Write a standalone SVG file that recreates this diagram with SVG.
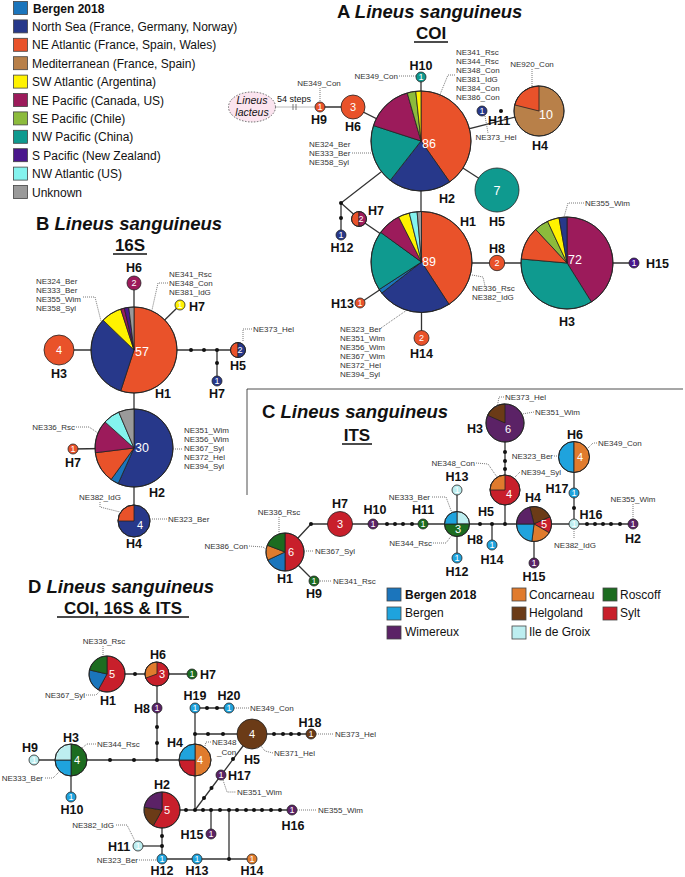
<svg xmlns="http://www.w3.org/2000/svg" width="685" height="877" viewBox="0 0 685 877">
<style>
text{font-family:"Liberation Sans",Arial,sans-serif;fill:#111}
.lg{font-size:12px}
.lgb{font-size:12px;font-weight:bold}
.ti{font-size:18.5px;font-weight:bold}
.it{font-style:italic}
.st{font-size:17px;font-weight:bold;text-anchor:middle}
.h{font-size:12.5px;font-weight:bold;text-anchor:middle}
.hs{font-size:12.5px;font-weight:bold}
.s{font-size:8px;fill:#333}
.sm{font-size:8px;fill:#333;text-anchor:middle}
.se{font-size:8px;fill:#333;text-anchor:end}
.n{fill:#fff;text-anchor:middle;font-size:9px}
.nm{fill:#fff;text-anchor:middle;font-size:11px}
.nb{fill:#fff;text-anchor:middle;font-size:12.5px}
.ln{stroke:#333;stroke-width:1.3;fill:none}
.ld{stroke:#555;stroke-width:0.8;stroke-dasharray:1 1;fill:none}
.dot{fill:#111}
.o{fill:none;stroke:#222;stroke-width:0.9}
path,circle.f{stroke:#222;stroke-width:0.8}
.sq{stroke:#444;stroke-width:0.8}
.b18{fill:#1b75bc}.ns{fill:#27388a}.nea{fill:#e9522a}.med{fill:#b88049}.swa{fill:#fff200}
.nep{fill:#9c1b5b}.sep{fill:#8cbb3c}.nwp{fill:#0f9a8f}.sp{fill:#4a178c}.nwa{fill:#84f3ee}.unk{fill:#9a9a9a}
.ber{fill:#1fa3dd}.wim{fill:#5b2266}.con{fill:#e07b2d}.hel{fill:#6b3b17}.idg{fill:#bdeef0}.ros{fill:#1c6c20}.syl{fill:#c81f2b}
</style>

<!-- Legend A/B -->
<g id="legend-ab">
<rect class="sq b18" x="13.5" y="1.5" width="14" height="13"/><text class="lgb" x="33" y="12.5">Bergen 2018</text>
<rect class="sq ns" x="13.5" y="19.9" width="14" height="13"/><text class="lg" x="32" y="30.9">North Sea (France, Germany, Norway)</text>
<rect class="sq nea" x="13.5" y="38.3" width="14" height="13"/><text class="lg" x="32" y="49.3">NE Atlantic (France, Spain, Wales)</text>
<rect class="sq med" x="13.5" y="56.7" width="14" height="13"/><text class="lg" x="32" y="67.7">Mediterranean (France, Spain)</text>
<rect class="sq swa" x="13.5" y="75.1" width="14" height="13"/><text class="lg" x="32" y="86.1">SW Atlantic (Argentina)</text>
<rect class="sq nep" x="13.5" y="93.5" width="14" height="13"/><text class="lg" x="32" y="104.5">NE Pacific (Canada, US)</text>
<rect class="sq sep" x="13.5" y="111.9" width="14" height="13"/><text class="lg" x="32" y="122.9">SE Pacific (Chile)</text>
<rect class="sq nwp" x="13.5" y="130.3" width="14" height="13"/><text class="lg" x="32" y="141.3">NW Pacific (China)</text>
<rect class="sq sp" x="13.5" y="148.7" width="14" height="13"/><text class="lg" x="32" y="159.7">S Pacific (New Zealand)</text>
<rect class="sq nwa" x="13.5" y="167.1" width="14" height="13"/><text class="lg" x="32" y="178.1">NW Atlantic (US)</text>
<rect class="sq unk" x="13.5" y="185.5" width="14" height="13"/><text class="lg" x="32" y="196.5">Unknown</text>
</g>

<!-- Titles -->
<g id="titles">
<text class="ti" x="337" y="18">A <tspan class="it">Lineus sanguineus</tspan></text>
<text class="st" x="431" y="39">COI</text><line x1="414" y1="42" x2="448" y2="42" stroke="#111" stroke-width="1.5"/>
<text class="ti" x="36" y="230">B <tspan class="it">Lineus sanguineus</tspan></text>
<text class="st" x="130" y="251">16S</text><line x1="113" y1="254" x2="147" y2="254" stroke="#111" stroke-width="1.5"/>
<text class="ti" x="262" y="418">C <tspan class="it">Lineus sanguineus</tspan></text>
<text class="st" x="357" y="441">ITS</text><line x1="342" y1="444" x2="372" y2="444" stroke="#111" stroke-width="1.5"/>
<text class="ti" x="28" y="593">D <tspan class="it">Lineus sanguineus</tspan></text>
<text class="st" x="123" y="614">COI, 16S &amp; ITS</text><line x1="57" y1="617" x2="189" y2="617" stroke="#111" stroke-width="1.5"/>
<path d="M247,495 L247,389 L683,389" fill="none" stroke="#111" stroke-width="1.5"/>
</g>

<!-- Connectors -->
<g id="connectors">
<!-- A -->
<line class="ld" x1="275.5" y1="107" x2="315" y2="107"/>
<line x1="293" y1="104" x2="293" y2="110" stroke="#555" stroke-width="0.8"/>
<line x1="296" y1="104" x2="296" y2="110" stroke="#555" stroke-width="0.8"/>
<polyline class="ln" points="320,107 353,107 421,141"/>
<line class="ln" x1="421" y1="77" x2="421" y2="262"/>
<polyline class="ln" points="421,141 539,111"/>
<line class="ln" x1="421" y1="141" x2="497" y2="190"/>
<polyline class="ln" points="421,141 341,203 341,235"/>
<polyline class="ln" points="341,203 359,219 421.5,262"/>
<line class="ln" x1="360" y1="303" x2="421.5" y2="262"/>
<line class="ln" x1="421.5" y1="262" x2="421.5" y2="338"/>
<line class="ln" x1="421.5" y1="263" x2="634" y2="263"/>
<circle class="dot" cx="501" cy="111" r="2"/>
<circle class="dot" cx="341" cy="203" r="2"/>
<circle class="dot" cx="341" cy="218" r="2"/>
<!-- B -->
<line class="ln" x1="134" y1="283" x2="134" y2="521"/>
<line class="ln" x1="134" y1="350" x2="180" y2="305"/>
<line class="ln" x1="59" y1="350" x2="238" y2="350"/>
<line class="ln" x1="217" y1="350" x2="217" y2="381"/>
<line class="ln" x1="73" y1="449" x2="134" y2="448"/>
<circle class="dot" cx="191" cy="350" r="2"/><circle class="dot" cx="204" cy="350" r="2"/><circle class="dot" cx="217" cy="350" r="2"/><circle class="dot" cx="217" cy="363" r="2"/>
<!-- C -->
<polyline class="ln" points="285,552 311,524 633,524"/>
<line class="ln" x1="285" y1="552" x2="314" y2="581"/>
<line class="ln" x1="457" y1="490" x2="457" y2="558"/>
<line class="ln" x1="492" y1="524" x2="492" y2="545"/>
<line class="ln" x1="505" y1="524" x2="505" y2="423"/>
<line class="ln" x1="534" y1="524" x2="534" y2="563"/>
<line class="ln" x1="574" y1="524" x2="574" y2="457"/>
<circle class="dot" cx="311" cy="524" r="2"/>
<circle class="dot" cx="387" cy="524" r="2"/><circle class="dot" cx="395" cy="524" r="2"/><circle class="dot" cx="403" cy="524" r="2"/><circle class="dot" cx="412" cy="524" r="2"/>
<circle class="dot" cx="480" cy="524" r="2"/><circle class="dot" cx="492" cy="524" r="2"/><circle class="dot" cx="505" cy="524" r="2"/>
<circle class="dot" cx="505" cy="469" r="2"/><circle class="dot" cx="505" cy="461" r="2"/><circle class="dot" cx="505" cy="452" r="2"/>
<circle class="dot" cx="574" cy="508" r="2"/>
<circle class="dot" cx="587" cy="524" r="2"/><circle class="dot" cx="595" cy="524" r="2"/><circle class="dot" cx="603" cy="524" r="2"/><circle class="dot" cx="611" cy="524" r="2"/><circle class="dot" cx="620" cy="524" r="2"/>
<!-- D -->
<line class="ln" x1="107" y1="674" x2="192" y2="674"/>
<line class="ln" x1="157" y1="674" x2="157" y2="760"/>
<line class="ln" x1="34" y1="760" x2="195" y2="760"/>
<line class="ln" x1="71" y1="760" x2="71" y2="797"/>
<line class="ln" x1="195" y1="708" x2="195" y2="810"/>
<line class="ln" x1="195" y1="708" x2="229" y2="708"/>
<line class="ln" x1="195" y1="734" x2="311" y2="734"/>
<line class="ln" x1="252" y1="734" x2="195" y2="810"/>
<line class="ln" x1="162" y1="810" x2="292" y2="810"/>
<line class="ln" x1="211" y1="810" x2="211" y2="834"/>
<line class="ln" x1="229" y1="810" x2="229" y2="859"/>
<line class="ln" x1="162" y1="810" x2="162" y2="859"/>
<line class="ln" x1="138" y1="846" x2="162" y2="846"/>
<line class="ln" x1="162" y1="859" x2="252" y2="859"/>
<circle class="dot" cx="135" cy="674" r="2"/>
<circle class="dot" cx="157" cy="727" r="2"/><circle class="dot" cx="157" cy="743" r="2"/><circle class="dot" cx="157" cy="760" r="2"/>
<circle class="dot" cx="110" cy="760" r="2"/><circle class="dot" cx="134" cy="760" r="2"/>
<circle class="dot" cx="207" cy="708" r="2"/><circle class="dot" cx="217" cy="708" r="2"/>
<circle class="dot" cx="195" cy="734" r="2"/><circle class="dot" cx="208" cy="734" r="2"/><circle class="dot" cx="223" cy="734" r="2"/>
<circle class="dot" cx="274" cy="734" r="2"/><circle class="dot" cx="283" cy="734" r="2"/><circle class="dot" cx="291" cy="734" r="2"/><circle class="dot" cx="299" cy="734" r="2"/>
<circle class="dot" cx="233" cy="759" r="2"/><circle class="dot" cx="211.5" cy="788" r="2"/><circle class="dot" cx="204" cy="798" r="2"/>
<circle class="dot" cx="186" cy="810" r="2"/><circle class="dot" cx="195" cy="810" r="2"/><circle class="dot" cx="203" cy="810" r="2"/><circle class="dot" cx="211" cy="810" r="2"/><circle class="dot" cx="220" cy="810" r="2"/><circle class="dot" cx="229" cy="810" r="2"/><circle class="dot" cx="237" cy="810" r="2"/><circle class="dot" cx="246" cy="810" r="2"/><circle class="dot" cx="254" cy="810" r="2"/><circle class="dot" cx="262" cy="810" r="2"/><circle class="dot" cx="271" cy="810" r="2"/><circle class="dot" cx="280" cy="810" r="2"/>
<circle class="dot" cx="162" cy="836" r="2"/><circle class="dot" cx="162" cy="846" r="2"/><circle class="dot" cx="229" cy="859" r="2"/>
</g>

<!-- Panel A nodes -->
<g id="A-lacteus">
<ellipse cx="252" cy="107" rx="23.5" ry="15" fill="#fbe4ef" stroke="#555" stroke-width="0.9" stroke-dasharray="1.5 1.5"/>
<text class="it" x="252" y="104" font-size="10.5" text-anchor="middle" fill="#333">Lineus</text>
<text class="it" x="252" y="116" font-size="10.5" text-anchor="middle" fill="#333">lacteus</text>
<text x="294" y="102" font-size="9" text-anchor="middle" fill="#333">54 steps</text>
</g>
<g id="A-H9"><circle class="f nea" cx="320" cy="107" r="5"/><text class="n" x="320" y="110">1</text><text class="h" x="319" y="124">H9</text><text class="sm" x="319" y="86">NE349_Con</text></g>
<g id="A-H6"><circle class="f nea" cx="353" cy="107" r="12"/><text class="nm" x="353" y="111">3</text><text class="h" x="353" y="131">H6</text></g>
<g id="A-H10"><circle class="f nwp" cx="421" cy="77" r="5"/><text class="n" x="421" y="80">1</text><text class="h" x="421" y="70">H10</text><text class="se" x="398" y="79">NE349_Con</text></g>
<g id="A-H2">
<path class="nea" d="M421,141 L421,91 A50,50 0 0 1 449.68,181.96 Z"/>
<path class="ns" d="M421,141 L449.68,181.96 A50,50 0 0 1 390.22,180.4 Z"/>
<path class="nwp" d="M421,141 L390.22,180.4 A50,50 0 0 1 373.45,125.55 Z"/>
<path class="nep" d="M421,141 L373.45,125.55 A50,50 0 0 1 407.22,92.94 Z"/>
<path class="sep" d="M421,141 L407.22,92.94 A50,50 0 0 1 415.77,91.27 Z"/>
<path class="swa" d="M421,141 L415.77,91.27 A50,50 0 0 1 421,91 Z"/>
<circle class="o" cx="421" cy="141" r="50"/>
<text class="nb" x="429" y="148">86</text><text class="h" x="447" y="203">H2</text>
<text class="s" x="456" y="55">NE341_Rsc</text><text class="s" x="456" y="64">NE344_Rsc</text><text class="s" x="456" y="73">NE348_Con</text><text class="s" x="456" y="82">NE381_IdG</text><text class="s" x="456" y="91">NE384_Con</text><text class="s" x="456" y="100">NE386_Con</text>
<text class="s" x="309" y="147">NE324_Ber</text><text class="s" x="309" y="156">NE333_Ber</text><text class="s" x="309" y="165">NE358_Syl</text>
</g>
<g id="A-H11"><circle class="f ns" cx="482" cy="111" r="5"/><text class="n" x="482" y="114">1</text><text class="h" x="499" y="125">H11</text><text class="sm" x="496" y="140">NE373_Hel</text></g>
<g id="A-H4"><circle class="f med" cx="539" cy="111" r="25"/><path class="nea" d="M539,111 L514.74,104.95 A25,25 0 0 1 539,86 Z"/><circle class="o" cx="539" cy="111" r="25"/><text class="nb" x="546" y="119">10</text><text class="h" x="540" y="150">H4</text><text class="sm" x="532" y="67">NE920_Con</text></g>
<g id="A-H5"><circle class="f nwp" cx="497" cy="190" r="22"/><text class="nb" x="497" y="195">7</text><text class="h" x="497" y="226">H5</text></g>
<g id="A-H12"><circle class="f ns" cx="341" cy="235" r="5"/><text class="n" x="341" y="238">1</text><text class="h" x="342" y="252">H12</text></g>
<g id="A-H7"><path class="nea" d="M359,219 L359,211.5 A7.5,7.5 0 0 0 359,226.5 Z"/><path class="nep" d="M359,219 L359,211.5 A7.5,7.5 0 0 1 359,226.5 Z"/><circle class="o" cx="359" cy="219" r="7.5"/><text class="n" x="361" y="222">2</text><text class="h" x="376" y="215">H7</text></g>
<g id="A-H1">
<path class="nea" d="M421.5,262 L421.5,211.5 A50.5,50.5 0 0 1 449,304.35 Z"/>
<path class="ns" d="M421.5,262 L449,304.35 A50.5,50.5 0 0 1 381.71,293.09 Z"/>
<path class="b18" d="M421.5,262 L381.71,293.09 A50.5,50.5 0 0 1 379.15,289.5 Z"/>
<path class="nwp" d="M421.5,262 L379.15,289.5 A50.5,50.5 0 0 1 380.64,232.32 Z"/>
<path class="nep" d="M421.5,262 L380.64,232.32 A50.5,50.5 0 0 1 398.57,217 Z"/>
<path class="swa" d="M421.5,262 L398.57,217 A50.5,50.5 0 0 1 409.28,213 Z"/>
<path class="nwa" d="M421.5,262 L409.28,213 A50.5,50.5 0 0 1 417.1,211.69 Z"/>
<path class="unk" d="M421.5,262 L417.1,211.69 A50.5,50.5 0 0 1 421.5,211.5 Z"/>
<circle class="o" cx="421.5" cy="262" r="50.5"/>
<text class="nb" x="429" y="266">89</text><text class="h" x="468" y="226">H1</text>
<text class="s" x="472" y="291">NE336_Rsc</text><text class="s" x="472" y="300">NE382_IdG</text>
<text class="s" x="340" y="332">NE323_Ber</text><text class="s" x="340" y="341">NE351_Wim</text><text class="s" x="340" y="350">NE356_Wim</text><text class="s" x="340" y="359">NE367_Wim</text><text class="s" x="340" y="368">NE372_Hel</text><text class="s" x="340" y="377">NE394_Syl</text>
</g>
<g id="A-H13"><circle class="f nea" cx="360" cy="303" r="5"/><text class="n" x="360" y="306">1</text><text class="hs" x="354" y="308" text-anchor="end">H13</text></g>
<g id="A-H14"><circle class="f nea" cx="421.5" cy="338" r="7.5"/><text class="n" x="421.5" y="341">2</text><text class="h" x="421.5" y="358">H14</text></g>
<g id="A-H8"><circle class="f nea" cx="497" cy="263" r="7.7"/><text class="n" x="497" y="266">2</text><text class="h" x="497" y="253">H8</text></g>
<g id="A-H3">
<path class="nep" d="M567,263 L567,217 A46,46 0 0 1 591.38,302.01 Z"/>
<path class="nwp" d="M567,263 L591.38,302.01 A46,46 0 0 1 521.18,258.99 Z"/>
<path class="nea" d="M567,263 L521.18,258.99 A46,46 0 0 1 535.63,229.36 Z"/>
<path class="sep" d="M567,263 L535.63,229.36 A46,46 0 0 1 547.56,221.31 Z"/>
<path class="swa" d="M567,263 L547.56,221.31 A46,46 0 0 1 559.01,217.7 Z"/>
<path class="ns" d="M567,263 L559.01,217.7 A46,46 0 0 1 567,217 Z"/>
<circle class="o" cx="567" cy="263" r="46"/>
<text class="nb" x="575" y="264">72</text><text class="h" x="567" y="326">H3</text>
<text class="s" x="585" y="206">NE355_Wim</text>
</g>
<g id="A-H15"><circle class="f sp" cx="634" cy="263" r="5"/><text class="n" x="634" y="266">1</text><text class="hs" x="646" y="268">H15</text></g>

<!-- Panel B nodes -->
<g id="B-H1">
<path class="nea" d="M134,350 L134,307 A43,43 0 1 1 120.71,390.9 Z"/>
<path class="ns" d="M134,350 L120.71,390.9 A43,43 0 0 1 103.07,320.13 Z"/>
<path class="swa" d="M134,350 L103.07,320.13 A43,43 0 0 1 120.71,309.1 Z"/>
<path class="nep" d="M134,350 L120.71,309.1 A43,43 0 0 1 124.33,308.1 Z"/>
<path class="sp" d="M134,350 L124.33,308.1 A43,43 0 0 1 128.76,307.32 Z"/>
<path class="unk" d="M134,350 L128.76,307.32 A43,43 0 0 1 134,307 Z"/>
<circle class="o" cx="134" cy="350" r="43"/>
<text class="nb" x="142" y="356">57</text><text class="h" x="163" y="398">H1</text>
<text class="s" x="169" y="277">NE341_Rsc</text><text class="s" x="169" y="286">NE348_Con</text><text class="s" x="169" y="295">NE381_IdG</text>
<text class="s" x="36" y="284">NE324_Ber</text><text class="s" x="36" y="293">NE333_Ber</text><text class="s" x="36" y="302">NE355_Wim</text><text class="s" x="36" y="311">NE358_Syl</text>
</g>
<g id="B-H6"><circle class="f nep" cx="134" cy="283" r="7"/><text class="n" x="134" y="286">2</text><text class="h" x="134" y="272">H6</text></g>
<g id="B-H7a"><circle class="f swa" cx="180" cy="305" r="5"/><text class="n" x="180" y="308" fill="#555">1</text><text class="hs" x="189" y="311">H7</text></g>
<g id="B-H3"><circle class="f nea" cx="59" cy="350" r="15"/><text class="nm" x="59" y="354">4</text><text class="h" x="59" y="378">H3</text></g>
<g id="B-H5"><path class="nea" d="M238,350 L238,342.5 A7.5,7.5 0 0 0 238,357.5 Z"/><path class="ns" d="M238,350 L238,342.5 A7.5,7.5 0 0 1 238,357.5 Z"/><circle class="o" cx="238" cy="350" r="7.5"/><text class="n" x="240" y="353">2</text><text class="h" x="238" y="370">H5</text><text class="s" x="253" y="332">NE373_Hel</text></g>
<g id="B-H7b"><circle class="f ns" cx="217" cy="381" r="5"/><text class="n" x="217" y="384">1</text><text class="h" x="217" y="398">H7</text></g>
<g id="B-H2">
<path class="ns" d="M134,448 L134,409 A39,39 0 1 1 118.14,483.63 Z"/>
<path class="b18" d="M134,448 L118.14,483.63 A39,39 0 0 1 111.08,479.55 Z"/>
<path class="nea" d="M134,448 L111.08,479.55 A39,39 0 0 1 95.29,452.75 Z"/>
<path class="nep" d="M134,448 L95.29,452.75 A39,39 0 0 1 105.02,421.9 Z"/>
<path class="nwa" d="M134,448 L105.02,421.9 A39,39 0 0 1 118.76,412.1 Z"/>
<path class="unk" d="M134,448 L118.76,412.1 A39,39 0 0 1 134,409 Z"/>
<circle class="o" cx="134" cy="448" r="39"/>
<text class="nb" x="142" y="452">30</text><text class="h" x="157" y="497">H2</text>
<text class="se" x="75" y="430">NE336_Rsc</text>
<text class="s" x="184" y="433">NE351_Wim</text><text class="s" x="184" y="442">NE356_Wim</text><text class="s" x="184" y="451">NE367_Syl</text><text class="s" x="184" y="460">NE372_Hel</text><text class="s" x="184" y="469">NE394_Syl</text>
</g>
<g id="B-H7c"><circle class="f nea" cx="73" cy="449" r="5"/><text class="n" x="73" y="452">1</text><text class="h" x="73" y="467">H7</text></g>
<g id="B-H4"><circle class="f ns" cx="134" cy="521" r="16"/><path class="nea" d="M134,521 L118,521 A16,16 0 0 1 134,505 Z"/><circle class="o" cx="134" cy="521" r="16"/><text class="nm" x="140" y="529">4</text><text class="h" x="134" y="548">H4</text><text class="sm" x="100" y="500">NE382_IdG</text><text class="s" x="168" y="522">NE323_Ber</text></g>

<!-- Panel C nodes -->
<g id="C-H1">
<path class="syl" d="M285,552 L285,533 A19,19 0 0 1 285,571 Z"/>
<path class="b18" d="M285,552 L285,571 A19,19 0 0 1 267.78,560.03 Z"/>
<path class="con" d="M285,552 L267.78,560.03 A19,19 0 0 1 267.26,545.19 Z"/>
<path class="ros" d="M285,552 L267.26,545.19 A19,19 0 0 1 285,533 Z"/>
<circle class="o" cx="285" cy="552" r="19"/>
<text class="nm" x="291" y="556">6</text><text class="h" x="285" y="583">H1</text>
<text class="sm" x="279" y="515">NE336_Rsc</text><text class="se" x="248" y="549">NE386_Con</text><text class="s" x="315" y="554">NE367_Syl</text>
</g>
<g id="C-H9"><circle class="f ros" cx="314" cy="581" r="5"/><text class="n" x="314" y="584">1</text><text class="h" x="314" y="598">H9</text><text class="s" x="333" y="584">NE341_Rsc</text></g>
<g id="C-H7"><circle class="f syl" cx="340" cy="524" r="12.5"/><text class="nm" x="340" y="528">3</text><text class="h" x="340" y="508">H7</text></g>
<g id="C-H10"><circle class="f wim" cx="373" cy="524" r="5"/><text class="n" x="373" y="527">1</text><text class="h" x="375" y="514">H10</text></g>
<g id="C-H11"><circle class="f ros" cx="423" cy="524" r="5"/><text class="n" x="423" y="527">1</text><text class="h" x="423" y="514">H11</text></g>
<g id="C-H8">
<path class="idg" d="M457,524 L457,511.5 A12.5,12.5 0 0 1 469.5,524 Z"/>
<path class="ros" d="M457,524 L469.5,524 A12.5,12.5 0 0 1 444.5,524 Z"/>
<path class="ber" d="M457,524 L444.5,524 A12.5,12.5 0 0 1 457,511.5 Z"/>
<circle class="o" cx="457" cy="524" r="12.5"/>
<text class="nm" x="458" y="533">3</text><text class="hs" x="467" y="544">H8</text>
<text class="se" x="430" y="500">NE333_Ber</text><text class="se" x="432" y="546">NE344_Rsc</text>
</g>
<g id="C-H13"><circle class="f idg" cx="457" cy="490" r="5"/><text class="n" x="457" y="493" fill="#667">1</text><text class="h" x="457" y="481">H13</text></g>
<g id="C-H12"><circle class="f ber" cx="457" cy="558" r="5"/><text class="n" x="457" y="561">1</text><text class="h" x="457" y="576">H12</text></g>
<g id="C-H14"><circle class="f ber" cx="492" cy="545" r="5"/><text class="n" x="492" y="548">1</text><text class="h" x="492" y="564">H14</text></g>
<g id="C-H5"><circle class="f syl" cx="505" cy="490" r="15"/><path class="con" d="M505,490 L490,490 A15,15 0 0 1 505,475 Z"/><circle class="o" cx="505" cy="490" r="15"/><text class="nm" x="509" y="498">4</text><text class="h" x="486" y="516">H5</text><text class="se" x="475" y="466">NE348_Con</text><text class="s" x="521" y="475">NE394_Syl</text></g>
<g id="C-H3"><circle class="f wim" cx="505" cy="423" r="19"/><path class="hel" d="M505,423 L487.64,415.27 A19,19 0 0 1 505,404 Z"/><circle class="o" cx="505" cy="423" r="19"/><text class="nm" x="508" y="433">6</text><text class="h" x="475" y="433">H3</text><text class="s" x="505" y="400">NE373_Hel</text><text class="s" x="535" y="415">NE351_Wim</text></g>
<g id="C-H4">
<path class="hel" d="M534,524 L529.77,507.02 A17.5,17.5 0 0 1 549.99,516.88 Z"/>
<path class="syl" d="M534,524 L549.99,516.88 A17.5,17.5 0 0 1 549.16,532.75 Z"/>
<path class="con" d="M534,524 L549.16,532.75 A17.5,17.5 0 0 1 531.87,541.37 Z"/>
<path class="ber" d="M534,524 L531.87,541.37 A17.5,17.5 0 0 1 516.5,524 Z"/>
<path class="wim" d="M534,524 L516.5,524 A17.5,17.5 0 0 1 529.77,507.02 Z"/>
<circle class="o" cx="534" cy="524" r="17.5"/>
<text class="nm" x="544" y="528">5</text><text class="h" x="533" y="502">H4</text>
</g>
<g id="C-H15"><circle class="f wim" cx="534" cy="563" r="5"/><text class="n" x="534" y="566">1</text><text class="h" x="534" y="581">H15</text></g>
<g id="C-H16"><circle class="f idg" cx="574" cy="524" r="5"/><text class="n" x="574" y="527" fill="#667">1</text><text class="h" x="591" y="519">H16</text><text class="sm" x="575" y="548">NE382_IdG</text></g>
<g id="C-H2"><circle class="f wim" cx="633" cy="524" r="5"/><text class="n" x="633" y="527">1</text><text class="h" x="633" y="543">H2</text><text class="sm" x="633" y="502">NE355_Wim</text></g>
<g id="C-H17"><circle class="f ber" cx="574" cy="493" r="5"/><text class="n" x="574" y="496">1</text><text class="h" x="557" y="493">H17</text></g>
<g id="C-H6"><path class="ber" d="M574,457 L574,441.5 A15.5,15.5 0 0 0 574,472.5 Z"/><path class="con" d="M574,457 L574,441.5 A15.5,15.5 0 0 1 574,472.5 Z"/><circle class="o" cx="574" cy="457" r="15.5"/><text class="nm" x="580" y="461">4</text><text class="h" x="575" y="439">H6</text><text class="s" x="598" y="446">NE349_Con</text><text class="se" x="553" y="459">NE323_Ber</text></g>

<!-- Legend C -->
<g id="legend-c">
<rect class="sq b18" x="387" y="588" width="14" height="13"/><text class="lgb" x="405" y="599">Bergen 2018</text>
<rect class="sq ber" x="387" y="607" width="14" height="13"/><text class="lg" x="405" y="617">Bergen</text>
<rect class="sq wim" x="387" y="626" width="14" height="13"/><text class="lg" x="405" y="636">Wimereux</text>
<rect class="sq con" x="512" y="588" width="14" height="13"/><text class="lg" x="529" y="599">Concarneau</text>
<rect class="sq hel" x="512" y="607" width="14" height="13"/><text class="lg" x="529" y="617">Helgoland</text>
<rect class="sq idg" x="512" y="626" width="14" height="13"/><text class="lg" x="529" y="636">Ile de Groix</text>
<rect class="sq ros" x="603" y="588" width="14" height="13"/><text class="lg" x="620" y="599">Roscoff</text>
<rect class="sq syl" x="603" y="607" width="14" height="13"/><text class="lg" x="620" y="617">Sylt</text>
</g>

<!-- Panel D nodes -->
<g id="D-H1">
<path class="syl" d="M107,674 L107,656 A18,18 0 1 1 98.27,689.74 Z"/>
<path class="b18" d="M107,674 L98.27,689.74 A18,18 0 0 1 89.46,669.95 Z"/>
<path class="ros" d="M107,674 L89.46,669.95 A18,18 0 0 1 107,656 Z"/>
<circle class="o" cx="107" cy="674" r="18"/>
<text class="nm" x="112" y="678">5</text><text class="h" x="108" y="705">H1</text>
<text class="sm" x="104" y="644">NE336_Rsc</text><text class="se" x="85" y="698">NE367_Syl</text>
</g>
<g id="D-H6"><circle class="f syl" cx="157" cy="674" r="12"/><path class="con" d="M157,674 L145.72,678.1 A12,12 0 0 1 157,662 Z"/><circle class="o" cx="157" cy="674" r="12"/><text class="nm" x="162" y="678">3</text><text class="h" x="158" y="659">H6</text></g>
<g id="D-H7"><circle class="f ros" cx="192" cy="674" r="5"/><text class="n" x="192" y="677">1</text><text class="hs" x="200" y="679">H7</text></g>
<g id="D-H8"><circle class="f wim" cx="157" cy="708" r="5"/><text class="n" x="157" y="711">1</text><text class="h" x="142" y="713">H8</text></g>
<g id="D-H3">
<path class="ros" d="M71,760 L71,744 A16,16 0 0 1 71,776 Z"/>
<path class="ber" d="M71,760 L71,776 A16,16 0 0 1 55,760 Z"/>
<path class="idg" d="M71,760 L55,760 A16,16 0 0 1 71,744 Z"/>
<circle class="o" cx="71" cy="760" r="16"/>
<text class="nm" x="77" y="764">4</text><text class="h" x="71" y="742">H3</text>
<text class="s" x="97" y="747">NE344_Rsc</text><text class="se" x="43" y="781">NE333_Ber</text>
</g>
<g id="D-H9"><circle class="f idg" cx="34" cy="760" r="5"/><text class="n" x="34" y="763" fill="#667">1</text><text class="h" x="30" y="752">H9</text></g>
<g id="D-H10"><circle class="f ber" cx="71" cy="797" r="5"/><text class="n" x="71" y="800">1</text><text class="h" x="72" y="814">H10</text></g>
<g id="D-H4">
<path class="con" d="M195,760 L195,744 A16,16 0 0 1 195,776 Z"/>
<path class="syl" d="M195,760 L195,776 A16,16 0 0 1 179,760 Z"/>
<path class="ber" d="M195,760 L179,760 A16,16 0 0 1 195,744 Z"/>
<circle class="o" cx="195" cy="760" r="16"/>
<text class="nm" x="200" y="764">4</text><text class="h" x="175" y="747">H4</text>
<text class="s" x="212" y="745">NE348</text><text class="s" x="217" y="755">_Con</text>
</g>
<g id="D-H19"><circle class="f ber" cx="195" cy="708" r="5"/><text class="n" x="195" y="711">1</text><text class="h" x="195" y="700">H19</text></g>
<g id="D-H20"><circle class="f ber" cx="229" cy="708" r="5"/><text class="n" x="229" y="711">1</text><text class="h" x="229" y="700">H20</text><text class="s" x="250" y="711">NE349_Con</text></g>
<g id="D-H5"><circle class="f hel" cx="252" cy="734" r="15"/><text class="nm" x="252" y="738">4</text><text class="h" x="252" y="764">H5</text><text class="s" x="274" y="756">NE371_Hel</text></g>
<g id="D-H18"><circle class="f hel" cx="311" cy="734" r="5"/><text class="n" x="311" y="737">1</text><text class="h" x="310" y="727">H18</text><text class="s" x="335" y="737">NE373_Hel</text></g>
<g id="D-H17"><circle class="f wim" cx="221" cy="775" r="5"/><text class="n" x="221" y="778">1</text><text class="hs" x="228" y="780">H17</text><text class="s" x="237" y="795">NE351_Wim</text></g>
<g id="D-H2">
<path class="syl" d="M162,810 L162,792 A18,18 0 1 1 153.27,825.74 Z"/>
<path class="hel" d="M162,810 L153.27,825.74 A18,18 0 0 1 144.22,807.18 Z"/>
<path class="wim" d="M162,810 L144.22,807.18 A18,18 0 0 1 162,792 Z"/>
<circle class="o" cx="162" cy="810" r="18"/>
<text class="nm" x="167" y="814">5</text><text class="h" x="162" y="789">H2</text>
</g>
<g id="D-H16"><circle class="f wim" cx="292" cy="810" r="5"/><text class="n" x="292" y="813">1</text><text class="h" x="293" y="830">H16</text><text class="s" x="318" y="813">NE355_Wim</text></g>
<g id="D-H15"><circle class="f wim" cx="211" cy="834" r="5"/><text class="n" x="211" y="837">1</text><text class="h" x="192" y="839">H15</text></g>
<g id="D-H11"><circle class="f idg" cx="138" cy="846" r="5"/><text class="n" x="138" y="849" fill="#667">1</text><text class="h" x="119" y="851">H11</text><text class="se" x="114" y="828">NE382_IdG</text></g>
<g id="D-H12"><circle class="f ber" cx="162" cy="859" r="5"/><text class="n" x="162" y="862">1</text><text class="h" x="162" y="875">H12</text><text class="se" x="138" y="863">NE323_Ber</text></g>
<g id="D-H13"><circle class="f ber" cx="197" cy="859" r="5"/><text class="n" x="197" y="862">1</text><text class="h" x="197" y="875">H13</text></g>
<g id="D-H14"><circle class="f con" cx="252" cy="859" r="5"/><text class="n" x="252" y="862">1</text><text class="h" x="252" y="875">H14</text></g>

<!-- Leader lines -->
<g id="leaders">
<line class="ld" x1="320" y1="88" x2="320" y2="102"/>
<line class="ld" x1="399" y1="76" x2="416" y2="76"/>
<polyline class="ld" points="455,75 448,75 439,97"/>
<line class="ld" x1="352" y1="153" x2="372" y2="153"/>
<line class="ld" x1="485" y1="116" x2="488" y2="133"/>
<line class="ld" x1="532" y1="69" x2="532" y2="86"/>
<polyline class="ld" points="584,203 568,203 564,217"/>
<polyline class="ld" points="472,275 483,277 485,286"/>
<line class="ld" x1="381" y1="328" x2="407" y2="310"/>
<polyline class="ld" points="168,283 158,283 152,310"/>
<polyline class="ld" points="83,297 95,297 101,321"/>
<polyline class="ld" points="252,329 243,329 243,342"/>
<polyline class="ld" points="76,427 89,427 98,433"/>
<line class="ld" x1="173" y1="449" x2="183" y2="449"/>
<polyline class="ld" points="100,502 100,507 120,512"/>
<line class="ld" x1="150" y1="519" x2="167" y2="519"/>
<line class="ld" x1="279" y1="517" x2="279" y2="533"/>
<polyline class="ld" points="249,546 263,547 267,550"/>
<line class="ld" x1="304" y1="551" x2="314" y2="551"/>
<line class="ld" x1="320" y1="581" x2="332" y2="581"/>
<polyline class="ld" points="432,497 446,497 452,513"/>
<polyline class="ld" points="433,543 446,543 452,535"/>
<polyline class="ld" points="476,463 488,464 497,477"/>
<line class="ld" x1="520" y1="472" x2="515" y2="477"/>
<polyline class="ld" points="504,397 499,397 497,408"/>
<line class="ld" x1="534" y1="412" x2="522" y2="414"/>
<line class="ld" x1="574" y1="529" x2="574" y2="539"/>
<line class="ld" x1="633" y1="504" x2="633" y2="519"/>
<polyline class="ld" points="597,443 593,443 587,449"/>
<line class="ld" x1="554" y1="456" x2="559" y2="456"/>
<line class="ld" x1="103" y1="646" x2="103" y2="656"/>
<polyline class="ld" points="86,695 96,695 100,691"/>
<polyline class="ld" points="96,744 87,744 82,748"/>
<polyline class="ld" points="45,778 53,778 59,772"/>
<polyline class="ld" points="211,742 206,742 205,746"/>
<line class="ld" x1="234" y1="708" x2="249" y2="708"/>
<polyline class="ld" points="273,753 265,751 261,746"/>
<line class="ld" x1="316" y1="734" x2="334" y2="734"/>
<polyline class="ld" points="223,780 227,792 236,792"/>
<line class="ld" x1="297" y1="810" x2="317" y2="810"/>
<polyline class="ld" points="116,825 127,825 135,841"/>
<line class="ld" x1="139" y1="860" x2="156" y2="860"/>
</g>
</svg>
